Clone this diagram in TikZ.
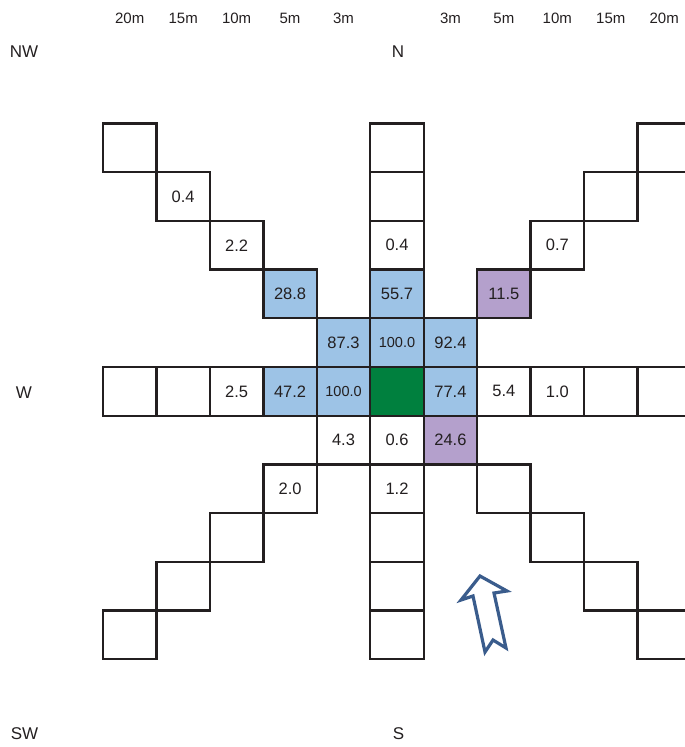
\documentclass[tikz,border=0pt]{standalone}
\usepackage{fontspec}
\setmainfont{Liberation Sans}
\definecolor{cellblue}{RGB}{157,195,230}
\definecolor{cellpurple}{RGB}{180,160,204}
\definecolor{cellgreen}{RGB}{0,128,62}
\definecolor{ink}{RGB}{35,31,32}
\definecolor{arrowblue}{RGB}{58,92,140}
\begin{document}
\begin{tikzpicture}[x=1pt,y=-1pt,
  cell/.style={draw=ink, line width=2.3pt, minimum width=53.45pt, minimum height=48.7pt,
    inner sep=0pt, text=ink, font=\fontsize{16.5}{16.5}\selectfont},
  smallnum/.style={font=\fontsize{14.5}{14.5}\selectfont},
  head/.style={text=ink, inner sep=0pt, font=\fontsize{15}{15}\selectfont},
  compass/.style={text=ink, inner sep=0pt, font=\fontsize{17}{17}\selectfont},
  bigarrow/.style={draw=arrowblue, line width=3.2pt, fill=white, line join=miter}]
\useasboundingbox (0,0) rectangle (685,747);
\clip (0,0) rectangle (685,747);
% header distances
\foreach \i/\t in {0/20m,1/15m,2/10m,3/5m,4/3m,6/3m,7/5m,8/10m,9/15m,10/20m}
  \node[head] (h\i) at ({103+53.45*(\i+0.5)},18.3) {\t};
% compass labels
\node[compass] (nw) at (24,51.7) {NW};
\node[compass] (n) at (398,51.7) {N};
\node[compass] (w) at (24,393) {W};
\node[compass] (sw) at (24.5,734) {SW};
\node[compass] (s) at (398.5,734) {S};
% cells: column/row/fill/text
\foreach \i/\j/\f/\t in {
  0/0/white/, 1/1/white/0.4, 2/2/white/2.2, 3/3/cellblue/28.8, 4/4/cellblue/87.3,
  5/0/white/, 5/1/white/, 5/2/white/0.4, 5/3/cellblue/55.7,
  10/0/white/, 9/1/white/, 8/2/white/0.7, 7/3/cellpurple/11.5, 6/4/cellblue/92.4,
  0/5/white/, 1/5/white/, 2/5/white/2.5, 3/5/cellblue/47.2,
  5/5/cellgreen/,
  6/5/cellblue/77.4, 7/5/white/5.4, 8/5/white/1.0, 9/5/white/, 10/5/white/,
  4/6/white/4.3, 3/7/white/2.0, 2/8/white/, 1/9/white/, 0/10/white/,
  5/6/white/0.6, 5/7/white/1.2, 5/8/white/, 5/9/white/, 5/10/white/,
  6/6/cellpurple/24.6, 7/7/white/, 8/8/white/, 9/9/white/, 10/10/white/}
  \node[cell, fill=\f] (c\i-\j) at ({103+53.45*(\i+0.5)},{123.5+48.7*(\j+0.5)}) {\t};
\node[cell, smallnum, fill=cellblue] (c5-4) at ({103+53.45*5.5},{123.5+48.7*4.5}) {100.0};
\node[cell, smallnum, fill=cellblue] (c4-5) at ({103+53.45*4.5},{123.5+48.7*5.5}) {100.0};
% hollow arrow
\draw[bigarrow] (480,576) -- (507,591) -- (494,593) -- (506,648) -- (493,640)
  -- (485,652) -- (473,596) -- (461,600) -- cycle;
\end{tikzpicture}
\end{document}
